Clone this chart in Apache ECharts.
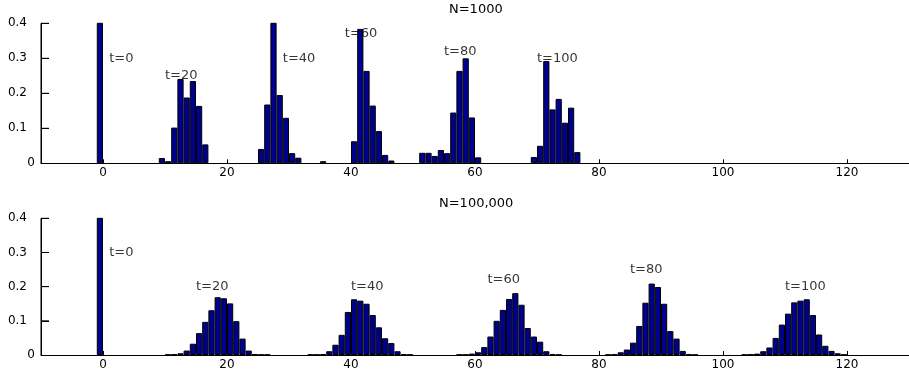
<!DOCTYPE html>
<html>
<head>
<meta charset="utf-8">
<script src="https://cdn.jsdelivr.net/npm/echarts@6/dist/echarts.min.js"></script>
<style>
  html, body { margin: 0; padding: 0; background: #fff; }
  #chart { width: 909px; height: 371px; }
</style>
</head>
<body>
<div id="chart"></div>
<script>
// tick labels
const xTicks = [0, 20, 40, 60, 80, 100, 120];
const yTicks = [0.1, 0.2, 0.3, 0.4];
const panelTitles = ['N=1000', 'N=100,000'];
const tagTexts = ['t=0', 't=20', 't=40', 't=60', 't=80', 't=100'];

// histogram groups: left edge of the first bin + bin heights (bin width 1)
const topStarts = [-1, 9, 25, 35, 40, 51, 69];
const topHeights = [
  [1.0],
  [0.015, 0.006, 0.102, 0.241, 0.188, 0.235, 0.164, 0.054],
  [0.041, 0.168, 0.41, 0.195, 0.130, 0.029, 0.016],
  [0.006],
  [0.063, 0.384, 0.264, 0.165, 0.092, 0.024, 0.008],
  [0.030, 0.030, 0.021, 0.038, 0.029, 0.145, 0.264, 0.300, 0.131, 0.017],
  [0.018, 0.050, 0.292, 0.154, 0.184, 0.116, 0.159, 0.032]
];
const bottomStarts = [-1, 10, 33, 57, 81, 103];
const bottomHeights = [
  [1.0],
  [0.001, 0.002, 0.005, 0.013, 0.033, 0.064, 0.097, 0.131, 0.169, 0.166, 0.151, 0.099, 0.048, 0.013, 0.003, 0.001, 0.001],
  [0.001, 0.001, 0.003, 0.011, 0.030, 0.059, 0.126, 0.163, 0.159, 0.150, 0.117, 0.081, 0.049, 0.035, 0.011, 0.002, 0.001],
  [0.001, 0.001, 0.004, 0.008, 0.023, 0.054, 0.100, 0.132, 0.164, 0.181, 0.147, 0.079, 0.054, 0.039, 0.011, 0.003, 0.001],
  [0.001, 0.002, 0.008, 0.016, 0.036, 0.085, 0.153, 0.209, 0.199, 0.150, 0.070, 0.048, 0.012, 0.003, 0.001],
  [0.001, 0.002, 0.004, 0.011, 0.022, 0.050, 0.089, 0.121, 0.154, 0.159, 0.163, 0.117, 0.060, 0.027, 0.012, 0.005, 0.001]
];

// where the t=.. texts sit (data coords)
const topTagPos = [[1, 0.3], [10, 0.25], [29, 0.3], [39, 0.37], [55, 0.32], [70, 0.3]];
const bottomTagPos = [[1, 0.3], [15, 0.2], [40, 0.2], [62, 0.22], [85, 0.25], [110, 0.2]];

const font = 'DejaVu Sans';
const xMin = -10, xMax = 130, yMax = 0.4;
const gridW = 871;
const binPx = gridW / (xMax - xMin); // one unit on the x axis

// bar centres sit in the middle of each unit bin
function toBins(starts, heights) {
  const out = [];
  starts.forEach((s, g) => {
    heights[g].forEach((h, i) => out.push([s + i + 0.5, h]));
  });
  return out;
}

// left spine + inward ticks as one broken polyline on the axes' own scale
function spinePoints() {
  const pts = [[xMin, 0], [xMin, yMax], '-'];
  yTicks.forEach(v => { pts.push([xMin, v], [xMin + 8 / binPx, v], '-'); });
  return pts;
}

function xAxisFor(i) {
  return {
    type: 'value', gridIndex: i, min: xMin, max: xMax,
    axisLine: { onZero: false, lineStyle: { color: '#000', width: 1 } },
    axisTick: { inside: true, length: 4, customValues: xTicks, lineStyle: { color: '#000' } },
    axisLabel: { customValues: xTicks, color: '#000', fontFamily: font, fontSize: 12, margin: 4 },
    splitLine: { show: false }
  };
}

function yAxisFor(i) {
  return {
    type: 'value', gridIndex: i, min: 0, max: yMax, interval: 0.1, position: 'left', z: 10,
    axisLine: { show: true, onZero: false, lineStyle: { color: '#000', width: 1 } },
    axisTick: { show: true, inside: true, length: 8, lineStyle: { color: '#000' } },
    axisLabel: {
      color: '#000', fontFamily: font, fontSize: 12, margin: 6,
      formatter: v => v === 0 ? '{z|0}' : '{n|' + v.toFixed(1) + '}',
      rich: {
        z: { fontSize: 12 },
        n: { fontSize: 12, padding: [0, 8, 0, 0] }
      }
    },
    splitLine: { show: false }
  };
}

function barSeries(i, starts, heights) {
  return {
    type: 'bar', xAxisIndex: i, yAxisIndex: i,
    barWidth: binPx, silent: true,
    itemStyle: { color: '#00008f', borderColor: '#000', borderWidth: 1 },
    data: toBins(starts, heights)
  };
}

function spineSeries(i) {
  return {
    type: 'line', xAxisIndex: i, yAxisIndex: i, silent: true, clip: false, z: 10,
    symbol: 'none', connectNulls: false,
    lineStyle: { color: '#000', width: 1 },
    data: spinePoints()
  };
}

function tagSeries(i, pos) {
  return {
    type: 'scatter', xAxisIndex: i, yAxisIndex: i, symbolSize: 0, silent: true,
    data: pos.map((p, k) => ({ value: p, name: tagTexts[k] })),
    label: {
      show: true, position: 'right', distance: 0, formatter: p => p.name,
      color: '#000', fontFamily: font, fontSize: 13
    },
    z: 5
  };
}

const chart = echarts.init(document.getElementById('chart'));
chart.setOption({
  animation: false,
  title: [
    { text: panelTitles[0], left: 449, top: 3, padding: 0,
      textStyle: { color: '#000', fontFamily: font, fontSize: 13, fontWeight: 'normal' } },
    { text: panelTitles[1], left: 439, top: 197, padding: 0,
      textStyle: { color: '#000', fontFamily: font, fontSize: 13, fontWeight: 'normal' } }
  ],
  grid: [
    { left: 41, top: 23.3, width: gridW, height: 140 },
    { left: 41, top: 218.3, width: gridW, height: 139.4 }
  ],
  xAxis: [xAxisFor(0), xAxisFor(1)],
  yAxis: [yAxisFor(0), yAxisFor(1)],
  series: [
    barSeries(0, topStarts, topHeights),
    barSeries(1, bottomStarts, bottomHeights),
    spineSeries(0),
    spineSeries(1),
    tagSeries(0, topTagPos),
    tagSeries(1, bottomTagPos)
  ]
});
</script>
</body>
</html>
